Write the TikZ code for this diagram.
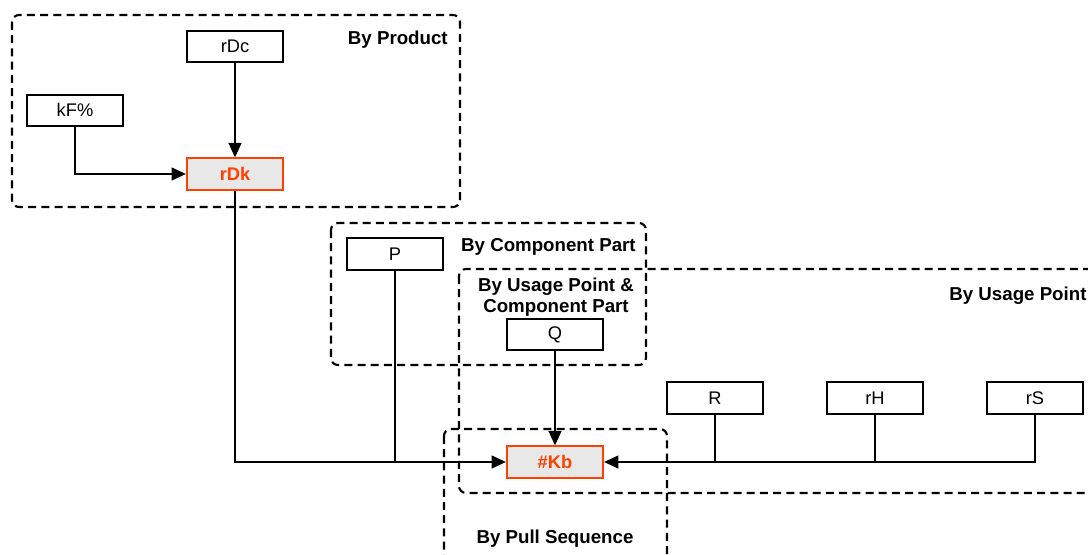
\documentclass[tikz,border=0pt]{standalone}
\usepackage{fontspec}
\setmainfont{Liberation Sans}
\usetikzlibrary{arrows.meta,positioning}
\definecolor{hot}{RGB}{255,64,0}
\definecolor{hotfill}{RGB}{232,232,232}

\begin{document}
\begin{tikzpicture}[x=1cm,y=1cm,>={Triangle[length=0.36cm,width=0.32cm]},
 b/.style={draw=black,line width=1.5pt,minimum width=2.4cm,minimum height=0.78cm,inner sep=0pt,font=\fontsize{13}{15}\selectfont},
 k/.style={b,draw=hot,fill=hotfill,text=hot,font=\fontsize{13}{15}\selectfont\bfseries},
 g/.style={draw=black,line width=1.5pt,dash pattern=on 0.2cm off 0.13cm,rounded corners=5pt},
 t/.style={font=\fontsize{13.3}{15.5}\selectfont\bfseries,inner sep=0pt,align=center},
 a/.style={->,line width=1.5pt}, w/.style={line width=1.5pt}]
 \useasboundingbox (0,0) rectangle (27.2,13.85);
 % grouping frames
 \draw[g] (0.3,13.475) rectangle (11.5,8.675);
 \draw[g] (8.275,8.275) rectangle (16.15,4.725);
 \draw[g] (11.475,7.125) rectangle (28.5,1.525);
 \draw[g] (11.1,3.125) rectangle (16.675,-0.6);
 \node[t,anchor=east] (lprod) at (11.2,12.85) {By Product};
 \node[t,anchor=east] (lcomp) at (15.9,7.68) {By Component Part};
 \node[t] (lboth) at (13.9,6.42) {By Usage Point \&\\Component Part};
 \node[t,anchor=east] (luse) at (27.17,6.45) {By Usage Point};
 \node[t] (lpull) at (13.875,0.39) {By Pull Sequence};
 % inputs
 \node[b] (rdc) at (5.875,12.69) {rDc};
 \node[b] (kf) at (1.875,11.09) {kF\%};
 \node[k] (rdk) at (5.875,9.5) {rDk};
 \node[b] (p) at (9.875,7.5) {P};
 \node[b] (q) at (13.875,5.49) {Q};
 \node[b] (r) at (17.875,3.9) {R};
 \node[b] (rh) at (21.875,3.9) {rH};
 \node[b] (rs) at (25.875,3.9) {rS};
 \node[k] (kb) at (13.875,2.3) {\#Kb};
 % connectors
 \draw[a] (rdc)--(rdk);
 \draw[a] (kf.south) |- (rdk.west);
 \draw[a] (rdk.south) |- (kb.west);
 \draw[w] (p.south) -- (p.south |- kb.west);
 \draw[a] (q)--(kb);
 \draw[a] (rs.south) |- (kb.east);
 \draw[w] (r.south) -- (r.south |- kb.east);
 \draw[w] (rh.south) -- (rh.south |- kb.east);
\end{tikzpicture}
\end{document}
